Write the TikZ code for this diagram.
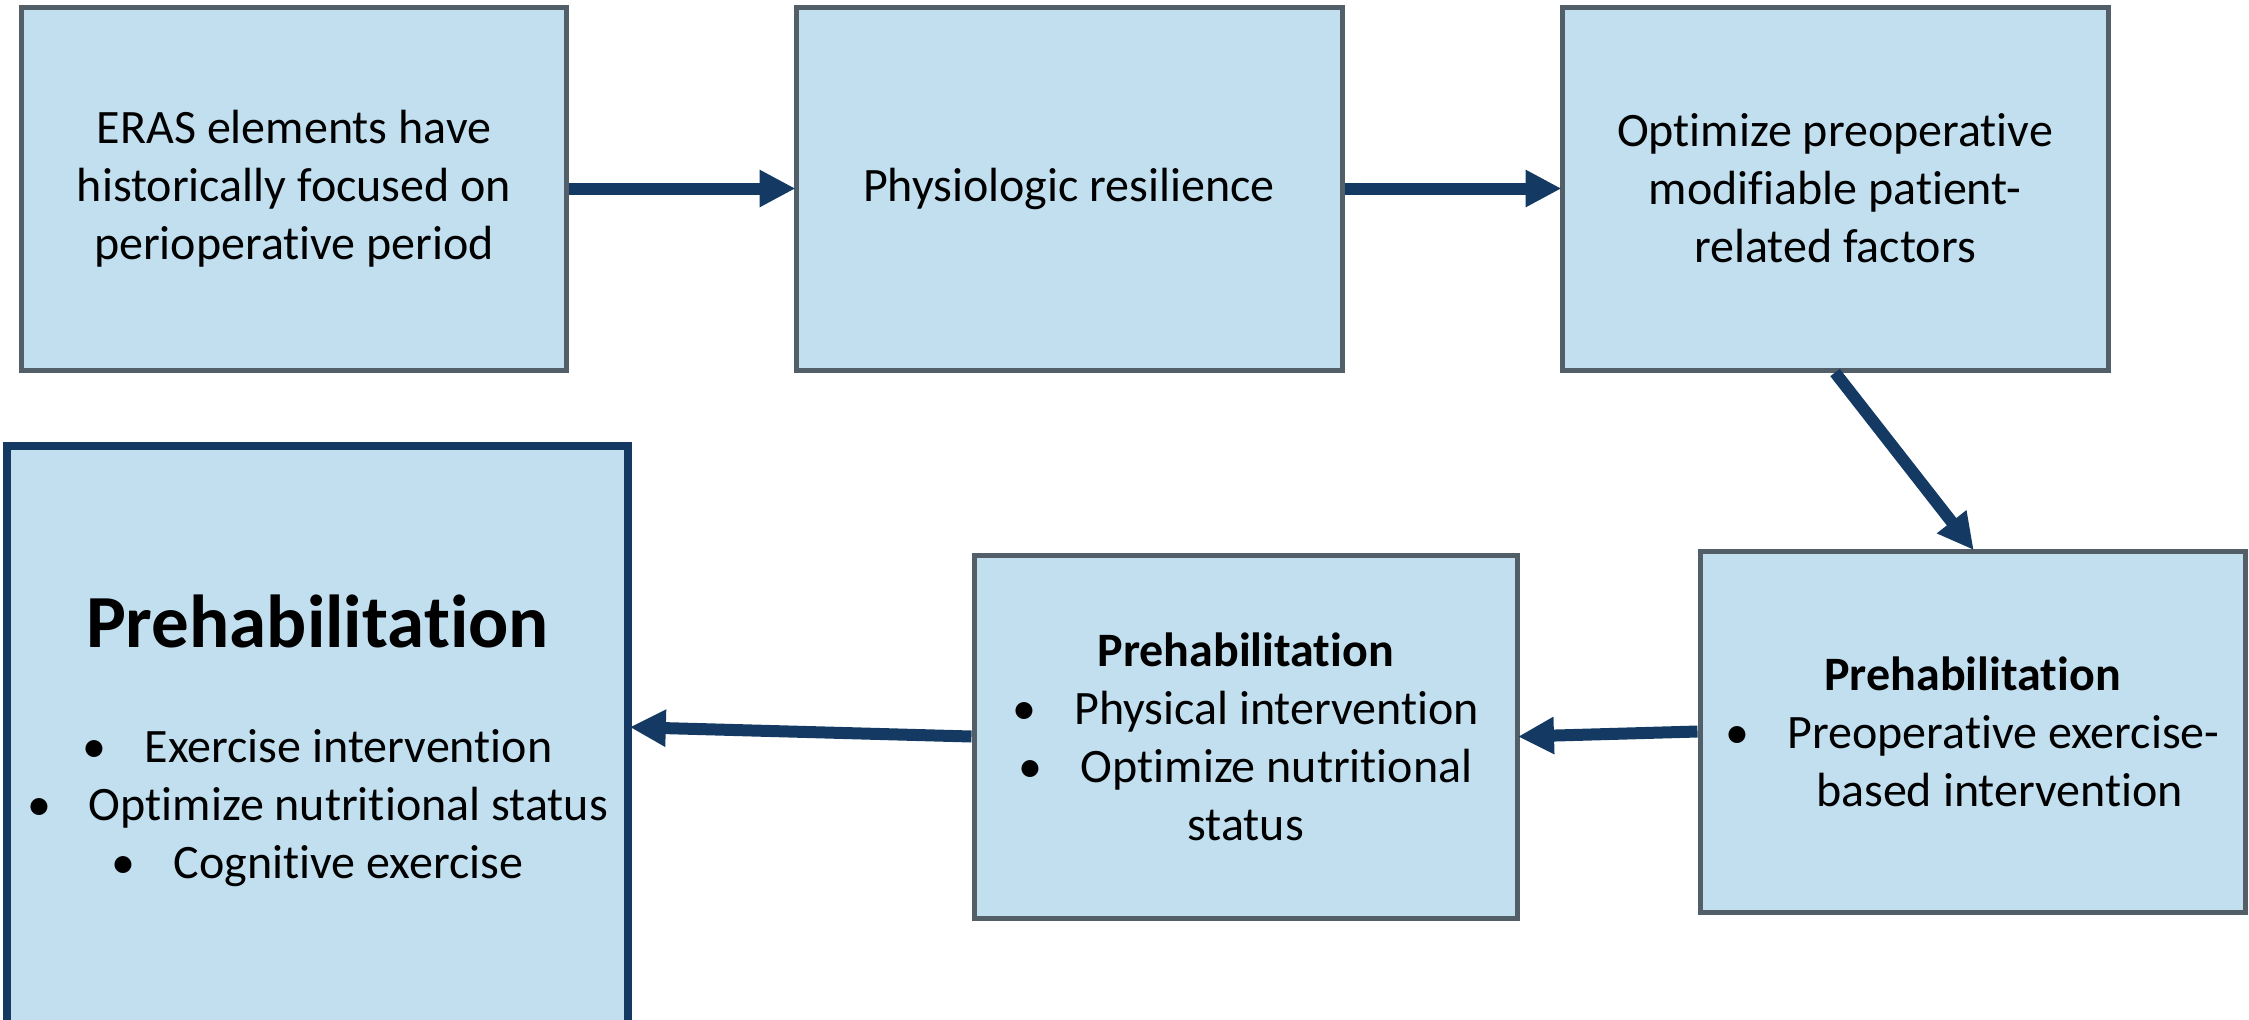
\documentclass[tikz,border=0pt]{standalone}
\usepackage{fontspec}
\setmainfont{Carlito}[Ligatures=NoCommon]
\usetikzlibrary{arrows.meta}
\definecolor{boxfill}{RGB}{193,223,239}
\definecolor{boxline}{RGB}{82,94,104}
\definecolor{navy}{RGB}{20,58,100}
\newcommand{\bul}{•\hspace{19pt}}
\begin{document}
\begin{tikzpicture}[x=0.5pt,y=-0.5pt,
  stepbox/.style={draw=boxline, line width=2.5pt, fill=boxfill, rectangle,
    inner sep=0pt, align=center, font=\fontsize{24}{29}\selectfont},
  mainbox/.style={stepbox, draw=navy, line width=3.8pt},
  flow/.style={draw=navy, line width=6pt,
    -{Triangle[length=18pt,width=17.5pt]}, shorten >=-1pt},
  txt/.style={align=center, inner sep=0pt, font=\fontsize{24}{29}\selectfont}]
\useasboundingbox (0,0) rectangle (2249,1019);

% top row
\node[stepbox, minimum width=272.5pt, minimum height=181.5pt] (b1) at (294,188.5)
  {ERAS elements have\\historically focused on\\perioperative period};
\node[stepbox, minimum width=273pt, minimum height=181.5pt] (b2) at (1069,188.5)
  {Physiologic resilience};
\node[stepbox, minimum width=273pt, minimum height=181.5pt] (b3) at (1835,188.5)
  {Optimize preoperative\\modifiable patient-\\related factors};

% bottom row
\node[stepbox, minimum width=272.5pt, minimum height=180.5pt] (b6) at (1972.5,731.5)
  {\textbf{Prehabilitation}\\\bul Preoperative exercise-\\\hspace{27pt}based intervention};
\node[stepbox, minimum width=271.75pt, minimum height=181.5pt] (b5) at (1245.75,736.5)
  {\textbf{Prehabilitation}\\\bul Physical intervention\\\bul Optimize nutritional\\status\hspace{44pt}};
\node[mainbox, minimum width=310.5pt, minimum height=327pt] (b4) at (317.5,773) {};
\node[txt, font=\fontsize{37.5}{45}\selectfont\bfseries] (t4) at (317.5,621) {Prehabilitation};
\node[txt] (l4) at (317.5,808)
  {\bul Exercise intervention\\\bul Optimize nutritional status\\\bul Cognitive exercise};

% connectors
\draw[flow] (b1) -- (b2);
\draw[flow] (b2) -- (b3);
\draw[flow] (b3.south) -- (b6.north);
\draw[flow] (b6.west) -- (b5.east);
\draw[flow] (b5.west) -- ([yshift=-142.5pt]b4.north east);
\end{tikzpicture}
\end{document}
